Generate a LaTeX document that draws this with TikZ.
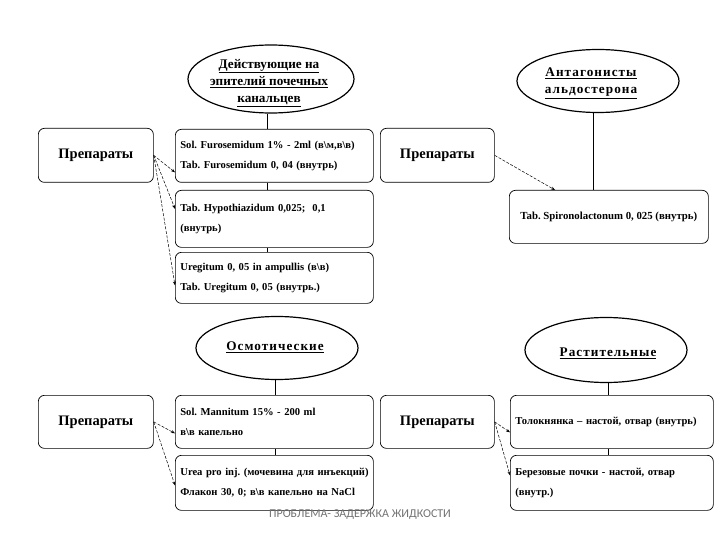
\documentclass[tikz,border=0pt]{standalone}
\usepackage{fontspec}
\setmainfont{Liberation Serif}
\newfontfamily\spacedfont[LetterSpace=8]{Liberation Serif}
\newfontfamily\footfont{Carlito}
\usetikzlibrary{shapes.geometric,arrows.meta}
\frenchspacing
\tikzset{
  box/.style={draw, line width=0.7pt, rounded corners=6pt, anchor=north west, inner sep=0pt},
  prep/.style={box, font=\fontsize{14.5}{16}\selectfont\bfseries},
  drug/.style={box, font=\fontsize{10.6}{20.5}\selectfont\bfseries, align=left, text width=188pt},
  oval/.style={draw, ellipse, line width=1.2pt, inner sep=0pt},
  ovaltext/.style={font=\fontsize{13.2}{17.2}\selectfont\bfseries, align=center},
  spacedtext/.style={font=\fontsize{13.2}{17.5}\selectfont\bfseries\spacedfont, align=center},
  link/.style={line width=0.6pt},
  arr/.style={line width=0.5pt, dash pattern=on 3pt off 1.5pt, -{Stealth[length=4pt,width=3pt]}}
}
\begin{document}
\begin{tikzpicture}[x=1pt,y=-1pt]
\useasboundingbox[fill=white] (0,0) rectangle (720,540);
% ---- top left group
\node[oval, minimum width=166pt, minimum height=68pt] (e1) at (271,79) {};
\node[ovaltext] (e1t) at (269,83) {\underline{Действующие на}\\\underline{эпителий почечных}\\\underline{канальцев}};
\node[prep, minimum width=115pt, minimum height=54pt] (p1) at (38,128) {Препараты};
\node[drug, minimum width=198pt, minimum height=53pt] (b1) at (175,129) {\mbox{Sol. Furosemidum 1\% - 2ml (в\textbackslash м,в\textbackslash в)}\\\mbox{Tab. Furosemidum 0, 04 (внутрь)}};
\node[drug, minimum width=198pt, minimum height=57pt] (b2) at (175,190) {\mbox{Tab. Hypothiazidum 0,025;\ \ 0,1}\\(внутрь)};
\node[drug, minimum width=198pt, minimum height=51pt] (b3) at (175,252) {\mbox{Uregitum 0, 05 in ampullis (в\textbackslash в)}\\\mbox{Tab. Uregitum 0, 05 (внутрь.)}};
\draw[link] (e1.south -| 267,0) -- (b1.north -| 267,0);
\draw[link] (b1.south -| 267,0) -- (b2.north -| 267,0);
\draw[link] (b2.south -| 267,0) -- (b3.north -| 267,0);
\draw[arr] (p1.east) -- ([yshift=-16.5pt]b1.west);
\draw[arr] (p1.east) -- ([yshift=10pt]b2.west);
\draw[arr] (p1.east) -- ([yshift=-7.5pt]b3.west);
% ---- top right group
\node[oval, minimum width=162pt, minimum height=63pt] (e2) at (598,81) {};
\node[spacedtext] (e2t) at (591,83) {\underline{Антагонисты}\\\underline{альдостерона}};
\node[prep, minimum width=114pt, minimum height=54pt] (p2) at (380,128) {Препараты};
\node[box, minimum width=199pt, minimum height=53pt, font=\fontsize{10.8}{12}\selectfont\bfseries] (sp) at (509,190) {Tab. Spironolactonum 0, 025 (внутрь)};
\draw[link] (e2.south -| 593,0) -- (sp.north -| 593,0);
\draw[arr] (p2.east) -- ([xshift=46pt]sp.north west);
% ---- bottom left group
\node[oval, minimum width=162pt, minimum height=63pt] (e3) at (277,348) {};
\node[spacedtext] (e3t) at (275,347) {\underline{Осмотические}};
\node[prep, minimum width=115pt, minimum height=53pt] (p3) at (38,395) {Препараты};
\node[drug, minimum width=198pt, minimum height=53pt] (m1) at (175,395) {\mbox{Sol. Mannitum 15\% - 200 ml}\\\mbox{в\textbackslash в капельно}};
\node[drug, minimum width=198pt, minimum height=55pt] (m2) at (175,455) {\mbox{Urea pro inj. (мочевина для инъекций)}\\\mbox{Флакон 30, 0; в\textbackslash в капельно на NaCl}};
\draw[link] (e3.south -| 275,0) -- (m1.north -| 275,0);
\draw[link] (m1.south -| 275,0) -- (m2.north -| 275,0);
\draw[arr] (p3.east) -- ([yshift=-11.5pt]m1.west);
\draw[arr] (p3.east) -- ([yshift=-2.5pt]m2.west);
% ---- bottom right group
\node[oval, minimum width=162pt, minimum height=65pt] (e4) at (606,350) {};
\node[spacedtext] (e4t) at (608,353) {\underline{Растительные}};
\node[prep, minimum width=114pt, minimum height=53pt] (p4) at (380,395) {Препараты};
\node[drug, minimum width=203pt, minimum height=53pt, text width=193pt] (t1) at (510,395) {\mbox{Толокнянка – настой, отвар (внутрь)}};
\node[drug, minimum width=203pt, minimum height=55pt, text width=193pt] (t2) at (510,455) {\mbox{Березовые почки - настой, отвар}\\(внутр.)};
\draw[link] (e4.south -| 608,0) -- (t1.north -| 608,0);
\draw[link] (t1.south -| 608,0) -- (t2.north -| 608,0);
\draw[arr] (p4.east) -- ([yshift=-10.5pt]t1.west);
\draw[arr] (p4.east) -- ([yshift=7.5pt]t2.west);
% ---- footer
\node[font=\fontsize{12}{14}\selectfont\footfont, text=black!55] (foot) at (360,515) {ПРОБЛЕМА- ЗАДЕРЖКА ЖИДКОСТИ};
\end{tikzpicture}
\end{document}
